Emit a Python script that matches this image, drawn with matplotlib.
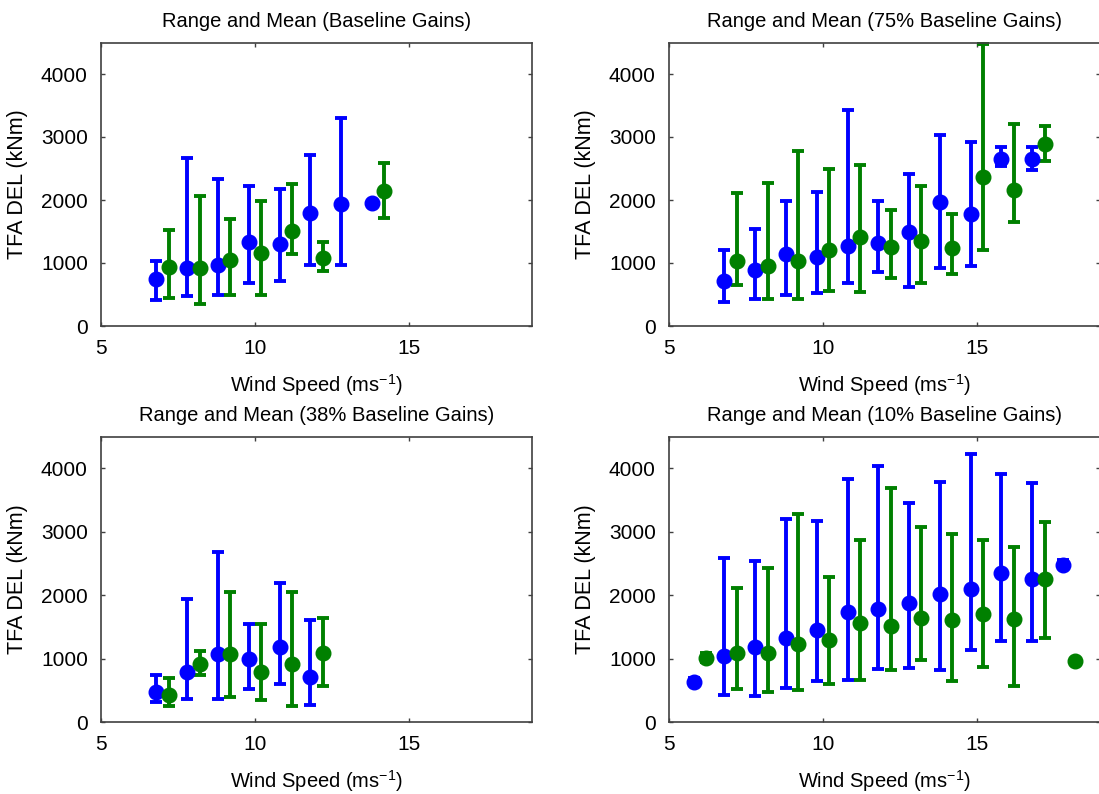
import matplotlib
matplotlib.use("Agg")
import matplotlib.pyplot as plt

plt.rcParams['font.family'] = ['Liberation Sans', 'DejaVu Sans']
plt.rcParams['mathtext.fontset'] = 'custom'
plt.rcParams['mathtext.rm'] = 'Liberation Sans'
plt.rcParams['mathtext.default'] = 'regular'

# --- Baseline gains ---
base_blue_x = [6.8, 7.8, 8.8, 9.8, 10.8, 11.8, 12.8, 13.8]
base_blue_mean = [750, 925, 965, 1330, 1305, 1790, 1930, 1950]
base_blue_lo = [420, 475, 500, 675, 720, 975, 975, 1950]
base_blue_hi = [1030, 2665, 2340, 2225, 2180, 2720, 3300, 1950]
base_green_x = [7.2, 8.2, 9.2, 10.2, 11.2, 12.2, 14.2]
base_green_mean = [930, 920, 1040, 1160, 1505, 1075, 2140]
base_green_lo = [440, 345, 500, 485, 1135, 870, 1715]
base_green_hi = [1530, 2070, 1700, 1990, 2255, 1335, 2580]

# --- 75% baseline gains ---
g75_blue_x = [6.8, 7.8, 8.8, 9.8, 10.8, 11.8, 12.8, 13.8, 14.8, 15.8, 16.8]
g75_blue_mean = [712, 887, 1135, 1092, 1266, 1319, 1488, 1968, 1778, 2649, 2649]
g75_blue_lo = [385, 422, 490, 517, 686, 855, 623, 923, 950, 2533, 2480]
g75_blue_hi = [1203, 1541, 1984, 2121, 3430, 1984, 2417, 3034, 2918, 2834, 2834]
g75_green_x = [7.2, 8.2, 9.2, 10.2, 11.2, 12.2, 13.2, 14.2, 15.2, 16.2, 17.2]
g75_green_mean = [1029, 950, 1029, 1203, 1414, 1256, 1346, 1235, 2359, 2164, 2892]
g75_green_lo = [649, 422, 422, 554, 538, 755, 686, 818, 1203, 1646, 2612]
g75_green_hi = [2111, 2269, 2770, 2496, 2549, 1847, 2227, 1778, 4470, 3208, 3182]

# --- 38% baseline gains ---
g38_blue_x = [6.8, 7.8, 8.8, 9.8, 10.8, 11.8]
g38_blue_mean = [470, 792, 1076, 987, 1187, 712]
g38_blue_lo = [317, 364, 364, 528, 602, 274]
g38_blue_hi = [733, 1937, 2686, 1541, 2185, 1604]
g38_green_x = [7.2, 8.2, 9.2, 10.2, 11.2, 12.2]
g38_green_mean = [433, 908, 1066, 786, 908, 1092]
g38_green_lo = [259, 733, 391, 354, 248, 565]
g38_green_hi = [697, 1113, 2047, 1541, 2047, 1646]

# --- 10% baseline gains ---
g10_blue_x = [5.8, 6.8, 7.8, 8.8, 9.8, 10.8, 11.8, 12.8, 13.8, 14.8, 15.8, 16.8, 17.8]
g10_blue_mean = [625, 1035, 1182, 1329, 1456, 1734, 1781, 1881, 2023, 2091, 2354, 2260, 2480]
g10_blue_lo = [580, 420, 410, 541, 646, 667, 841, 857, 825, 1130, 1277, 1277, 2420]
g10_blue_hi = [700, 2585, 2538, 3205, 3169, 3836, 4036, 3458, 3784, 4220, 3904, 3768, 2550]
g10_green_x = [6.2, 7.2, 8.2, 9.2, 10.2, 11.2, 12.2, 13.2, 14.2, 15.2, 16.2, 17.2, 18.2]
g10_green_mean = [1014, 1088, 1088, 1235, 1298, 1561, 1508, 1645, 1613, 1708, 1629, 2260, 962]
g10_green_lo = [940, 525, 473, 510, 594, 667, 825, 972, 646, 867, 562, 1329, 962]
g10_green_hi = [1090, 2118, 2433, 3284, 2286, 2874, 3689, 3074, 2969, 2864, 2759, 3153, 962]

titles = ['Range and Mean (Baseline Gains)', 'Range and Mean (75% Baseline Gains)',
          'Range and Mean (38% Baseline Gains)', 'Range and Mean (10% Baseline Gains)']

panels = [
    (base_blue_x, base_blue_mean, base_blue_lo, base_blue_hi,
     base_green_x, base_green_mean, base_green_lo, base_green_hi),
    (g75_blue_x, g75_blue_mean, g75_blue_lo, g75_blue_hi,
     g75_green_x, g75_green_mean, g75_green_lo, g75_green_hi),
    (g38_blue_x, g38_blue_mean, g38_blue_lo, g38_blue_hi,
     g38_green_x, g38_green_mean, g38_green_lo, g38_green_hi),
    (g10_blue_x, g10_blue_mean, g10_blue_lo, g10_blue_hi,
     g10_green_x, g10_green_mean, g10_green_lo, g10_green_hi),
]

W, H = 1099, 794
fig = plt.figure(figsize=(W / 100, H / 100), dpi=100)

# axes boxes in pixels: left, bottom spine y, width, height
boxes = [(101, 326, 431, 283.5), (669, 326, 431, 283.5),
         (101, 722, 431, 285.5), (669, 722, 431, 285.5)]

blue = (0, 0, 1)
green = (0, 0.5, 0)

for box, title, data in zip(boxes, titles, panels):
    left, ybot, w, h = box
    ax = fig.add_axes([left / W, 1 - ybot / H, w / W, h / H])
    bx, bm, blo, bhi, gx, gm, glo, ghi = data
    for x, m, lo, hi, c in [(bx, bm, blo, bhi, blue), (gx, gm, glo, ghi, green)]:
        yerr = [[mi - l for mi, l in zip(m, lo)], [hv - mi for mi, hv in zip(m, hi)]]
        ax.errorbar(x, m, yerr=yerr, fmt='o', color=c, ecolor=c, markersize=10.5,
                    elinewidth=2.8, capsize=4.5, capthick=2.8, clip_on=False)
    ax.set_xlim(5, 19)
    ax.set_ylim(0, 4500)
    ax.set_xticks([5, 10, 15])
    ax.set_yticks([0, 1000, 2000, 3000, 4000])
    ax.tick_params(direction='in', length=3, width=1, pad=9.5, labelsize=15,
                   top=True, right=True, color='#404040')
    for s in ax.spines.values():
        s.set_color('#404040')
        s.set_linewidth(1.2)
    ax.set_title(title, fontsize=14.5, pad=11)
    ax.set_xlabel('Wind Speed (ms$^{-1}$)', fontsize=14.5, labelpad=10)
    ax.set_ylabel('TFA DEL (kNm)', fontsize=15.5, labelpad=9)

fig.savefig('out.png', dpi=100)
